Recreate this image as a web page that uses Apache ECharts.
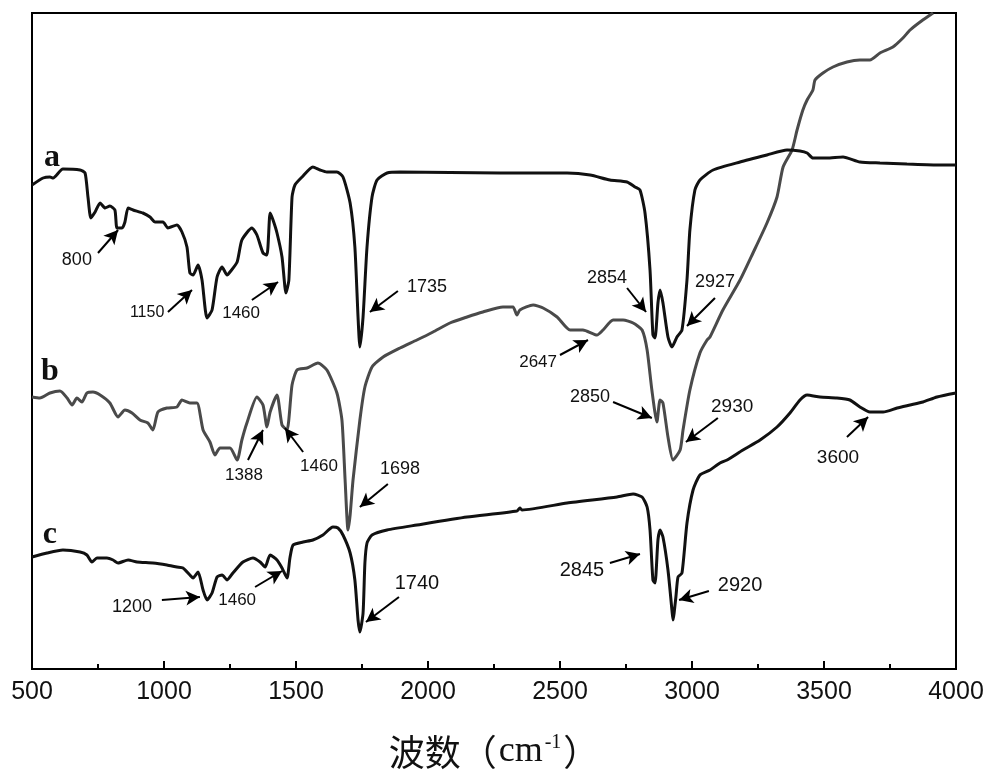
<!DOCTYPE html>
<html>
<head>
<meta charset="utf-8">
<script src="https://cdn.jsdelivr.net/npm/echarts@6/dist/echarts.min.js"></script>
<style>html,body{margin:0;padding:0;background:#fff;}#c{width:1000px;height:784px;}</style>
</head>
<body>
<div id="c"></div>
<script>
// Wavenumber (cm^-1) and relative transmittance (arbitrary units)
const aWave = [500,542,568,580,617,682,701,712,723,739,758,777,795,814,822,841,852,864,883,920,947,966,996,1015,1049,1068,1087,1098,1110,1129,1144,1163,1182,1201,1220,1239,1250,1277,1295,1333,1352,1375,1390,1402,1413,1428,1447,1462,1473,1485,1496,1523,1564,1591,1617,1655,1678,1705,1723,1735,1742,1754,1769,1788,1807,1845,1894,2273,2527,2614,2689,2754,2784,2803,2822,2841,2852,2860,2871,2879,2890,2909,2924,2943,2962,2981,2992,3011,3030,3080,3182,3284,3360,3409,3436,3458,3511,3572,3636,3712,3814,3939,4000];
const aVal  = [484,491,492,491,500,499,496,472,451,457,466,461,463,459,441,441,447,461,459,456,452,447,447,441,444,437,422,396,394,404,389,351,359,392,402,394,397,407,429,441,434,416,414,456,449,436,412,376,389,472,484,492,502,499,497,497,492,466,422,352,322,352,422,472,489,496,497,496,496,494,489,487,482,479,456,399,334,331,366,379,366,332,322,332,339,389,439,479,489,499,507,514,519,518,516,511,511,512,507,506,505,504,504];

const bWave = [500,530,568,606,633,652,670,689,708,731,758,795,826,852,879,909,939,958,977,1011,1049,1068,1098,1125,1148,1174,1193,1212,1250,1277,1295,1314,1352,1375,1390,1402,1428,1447,1466,1485,1504,1542,1583,1617,1655,1674,1686,1697,1705,1716,1742,1761,1788,1830,1894,1958,2019,2083,2148,2208,2284,2322,2337,2348,2398,2436,2489,2538,2587,2640,2663,2701,2739,2777,2811,2830,2848,2867,2879,2890,2909,2928,2955,2966,2992,3030,3057,3068,3117,3182,3231,3284,3322,3345,3379,3398,3420,3436,3458,3466,3496,3534,3587,3636,3674,3712,3761,3799,3826,3864,3902,3913];
const bVal  = [272,271,276,278,271,264,271,267,276,277,274,266,252,259,256,249,246,239,257,261,262,269,266,266,239,227,214,221,221,209,229,246,272,264,242,257,274,244,239,284,299,301,306,299,276,249,189,139,154,189,249,282,302,312,321,329,337,346,352,357,362,362,354,359,364,361,352,339,339,334,339,349,349,346,339,319,279,247,269,266,232,209,219,239,279,316,329,332,359,389,416,446,472,502,519,539,559,569,579,589,596,602,607,609,609,616,622,631,639,647,654,656];

const cWave = [500,557,617,682,708,727,746,784,807,826,864,898,958,1011,1049,1072,1098,1110,1129,1148,1163,1182,1201,1220,1239,1261,1299,1337,1364,1383,1402,1428,1447,1466,1477,1489,1527,1564,1602,1640,1659,1678,1705,1723,1735,1742,1754,1761,1769,1788,1845,1958,2148,2337,2348,2356,2527,2716,2777,2811,2830,2841,2852,2860,2871,2879,2890,2909,2924,2928,2939,2947,2962,2981,3004,3030,3068,3106,3133,3193,3258,3322,3371,3409,3436,3485,3549,3598,3636,3674,3724,3777,3826,3875,3928,4000];
const cVal  = [112,116,119,117,114,107,111,111,109,106,109,107,106,104,102,101,94,91,97,79,69,76,92,94,89,96,107,111,107,102,114,109,101,91,111,124,127,129,134,142,141,134,116,89,49,37,56,106,126,134,139,144,152,158,161,159,166,172,175,172,162,139,89,86,129,139,132,99,59,49,72,92,96,146,179,194,199,206,209,219,229,242,256,269,274,272,271,269,262,257,257,261,264,267,272,276];

const xTicks = [500,1000,1500,2000,2500,3000,3500,4000];

// Peak annotations: [text, textX, textY, tailX, tailY, headX, headY, fontSize]
const annoA = [
  ['800', 670,409, 750,416, 826,439, 18],
  ['1150',936,356, 1015,357, 1106,379, 16],
  ['1460',1292,356, 1333,369, 1432,387, 17],
  ['1735',1996,382, 1886,378, 1780,357, 18],
  ['2854',2678,391, 2754,381, 2826,357, 18],
  ['2927',3087,387, 3087,371, 2981,343, 18],
  ['2647',2417,307, 2500,314, 2606,329, 17]
];
const annoB = [
  ['1388',1303,194, 1318,209, 1375,239, 17],
  ['1460',1587,203, 1527,217, 1458,241, 17],
  ['1698',1894,200, 1848,185, 1742,162, 18],
  ['2850',2614,272, 2701,267, 2848,251, 18],
  ['2930',3152,262, 3098,251, 2977,227, 19],
  ['3600',3553,211, 3587,232, 3667,252, 19]
];
const annoC = [
  ['1200',879,62, 992,69, 1136,72, 18],
  ['1460',1277,69, 1345,82, 1447,98, 17],
  ['1740',1958,86, 1890,72, 1765,47, 20],
  ['2845',2583,99, 2689,106, 2803,115, 20],
  ['2920',3182,84, 3064,78, 2951,69, 20]
];
// Curve names with label positions
const curveNames = ['a','b','c'];
const curveLabelPos = [[576,511],[568,297],[568,134]];

function zip(xs, ys){ return xs.map((x,i)=>[x, ys[i]]); }
function arrows(list){
  return list.map(r => [
    {coord:[r[3],r[4]], symbol:'none'},
    {coord:[r[5],r[6]], symbol:'arrow', symbolSize:[11,14]}
  ]);
}
function texts(list, idx){
  const pts = list.map(r => ({
    coord:[r[1],r[2]], value:r[0],
    label:{fontSize:r[7], fontFamily:'Liberation Sans, Arial, sans-serif', color:'#111', formatter:r[0]}
  }));
  pts.push({
    coord: curveLabelPos[idx], value: curveNames[idx],
    label:{fontSize:32, fontWeight:'bold', fontFamily:'Liberation Serif, serif', color:'#111', formatter:curveNames[idx]}
  });
  return pts;
}
function mkSeries(name, data, color, anno, idx){
  return {
    name, type:'line', data, showSymbol:false, smooth:0.2,
    lineStyle:{color, width:3}, itemStyle:{color},
    markLine:{
      silent:true, animation:false,
      symbol:['none','arrow'], symbolSize:12,
      itemStyle:{color:'#000'},
      lineStyle:{color:'#000', width:2, type:'solid'},
      label:{show:false}, emphasis:{disabled:true},
      data: arrows(anno)
    },
    markPoint:{
      silent:true, animation:false,
      symbol:'rect', symbolSize:1, itemStyle:{color:'rgba(0,0,0,0)'},
      label:{show:true, position:'inside'},
      data: texts(anno, idx)
    }
  };
}

const chart = echarts.init(document.getElementById('c'), null, {renderer:'canvas'});
chart.setOption({
  animation:false,
  backgroundColor:'#fff',
  grid:{left:32, right:44, top:13, bottom:115, show:true, borderColor:'#000', borderWidth:2, backgroundColor:'transparent'},
  xAxis:{
    type:'value', min:500, max:4000, interval:500,
    axisLine:{show:true, lineStyle:{color:'#000', width:2}},
    axisTick:{show:true, inside:true, length:8, lineStyle:{color:'#000', width:2}},
    minorTick:{show:true, splitNumber:2, length:5, lineStyle:{color:'#000', width:2}},
    splitLine:{show:false},
    axisLabel:{
      margin:11, fontSize:25, color:'#111',
      fontFamily:'Liberation Sans, Arial, sans-serif',
      formatter: v => String(v),
      customValues: xTicks
    },
    name:'{zh|波数（}{en|cm}{sup|-1}{zh|）}',
    nameLocation:'middle', nameGap:64,
    nameTextStyle:{
      rich:{
        zh:{fontSize:36, fontFamily:'Noto Sans CJK SC', color:'#111'},
        en:{fontSize:36, fontFamily:'Liberation Serif, serif', color:'#111', padding:[0,2,0,2]},
        sup:{fontSize:20, fontFamily:'Liberation Serif, serif', color:'#111', verticalAlign:'top', padding:[0,2,18,0]}
      }
    }
  },
  yAxis:{
    type:'value', min:0, max:656,
    axisLine:{show:true, lineStyle:{color:'#000', width:2}},
    axisTick:{show:false}, axisLabel:{show:false}, splitLine:{show:false}
  },
  series:[
    mkSeries('b', zip(bWave,bVal), '#4a4a4a', annoB, 1),
    mkSeries('a', zip(aWave,aVal), '#111', annoA, 0),
    mkSeries('c', zip(cWave,cVal), '#111', annoC, 2)
  ]
});
</script>
</body>
</html>
